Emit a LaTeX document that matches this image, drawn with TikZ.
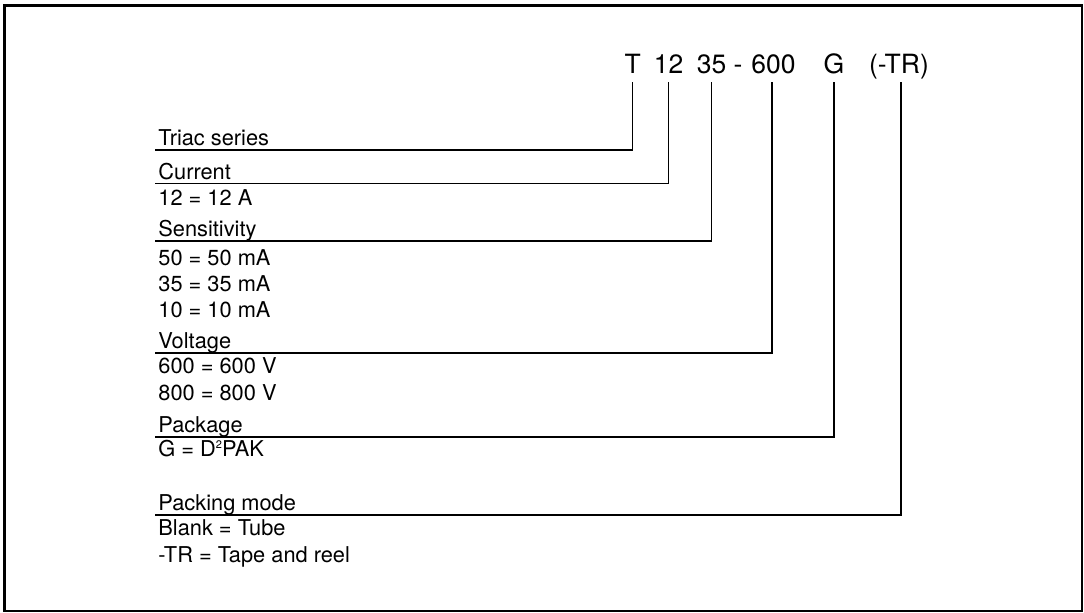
\documentclass[tikz,border=0pt]{standalone}
\usepackage{fontspec}
\setmainfont{TeX Gyre Heros}
\begin{document}
\begin{tikzpicture}[x=0.5pt,y=-0.5pt,
  code/.style={font=\fontsize{13.25}{16}\selectfont,inner sep=0pt,anchor=base},
  head/.style={font=\fontsize{10.9}{13}\selectfont,anchor=south west,inner xsep=1.5pt,inner ysep=1.9pt,text depth=0pt},
  val/.style={font=\fontsize{10.9}{13}\selectfont,anchor=base west,inner sep=0pt},
  conn/.style={line width=0.6pt}]
    \useasboundingbox (0,0) rectangle (1084,612);
    \draw[line width=1.25pt] (4.5,5.3) rectangle (1082,611);

    % part number
    \node[code] (tkT)  at (632.7,73) {T};
    \node[code] (tk12) at (668.5,73) {12};
    \node[code] (tk35) at (711.5,73) {35};
    \node[code] (tkd)  at (738,73)   {-};
    \node[code] (tk600) at (773.5,73) {600};
    \node[code] (tkG)  at (834,73)   {G};
    \node[code] (tkTR) at (899,73)   {(-TR)};

    % headings
    \node[head] (hTriac) at (155,150) {Triac series};
    \node[head] (hCur)   at (155,183.5) {Current};
    \node[head] (hSen)   at (155,241) {Sensitivity};
    \node[head] (hVol)   at (155,353) {Voltage};
    \node[head] (hPkg)   at (155,437) {Package};
    \node[head] (hPm)    at (155,515) {Packing mode};

    % values
    \node[val] (cur1) at (158,205) {12 = 12 A};
    \node[val] (sen1) at (158,265) {50 = 50 mA};
    \node[val] (sen2) at (158,291.5) {35 = 35 mA};
    \node[val] (sen3) at (158,317) {10 = 10 mA};
    \node[val] (vol1) at (158,373) {600 = 600 V};
    \node[val] (vol2) at (158,400) {800 = 800 V};
    \node[val] (pkg1) at (158,456) {G = D\raisebox{0.7ex}{\fontsize{5.5}{6}\selectfont 2}PAK};
    \node[val] (pm1)  at (158,535) {Blank = Tube};
    \node[val] (pm2)  at (158,562) {-TR = Tape and reel};

    \draw[conn] (tkT.base) ++(0,9) |- (hTriac.south west);
    \draw[conn] (tk12.base) ++(0,9) |- (hCur.south west);
    \draw[conn] (tk35.base) ++(0,9) |- (hSen.south west);
    \draw[conn] (tk600.base) ++(-1.5,9) |- (hVol.south west);
    \draw[conn] (tkG.base) ++(0,9) |- (hPkg.south west);
    \draw[conn] (tkTR.base) ++(2,9) |- (hPm.south west);
\end{tikzpicture}
\end{document}
